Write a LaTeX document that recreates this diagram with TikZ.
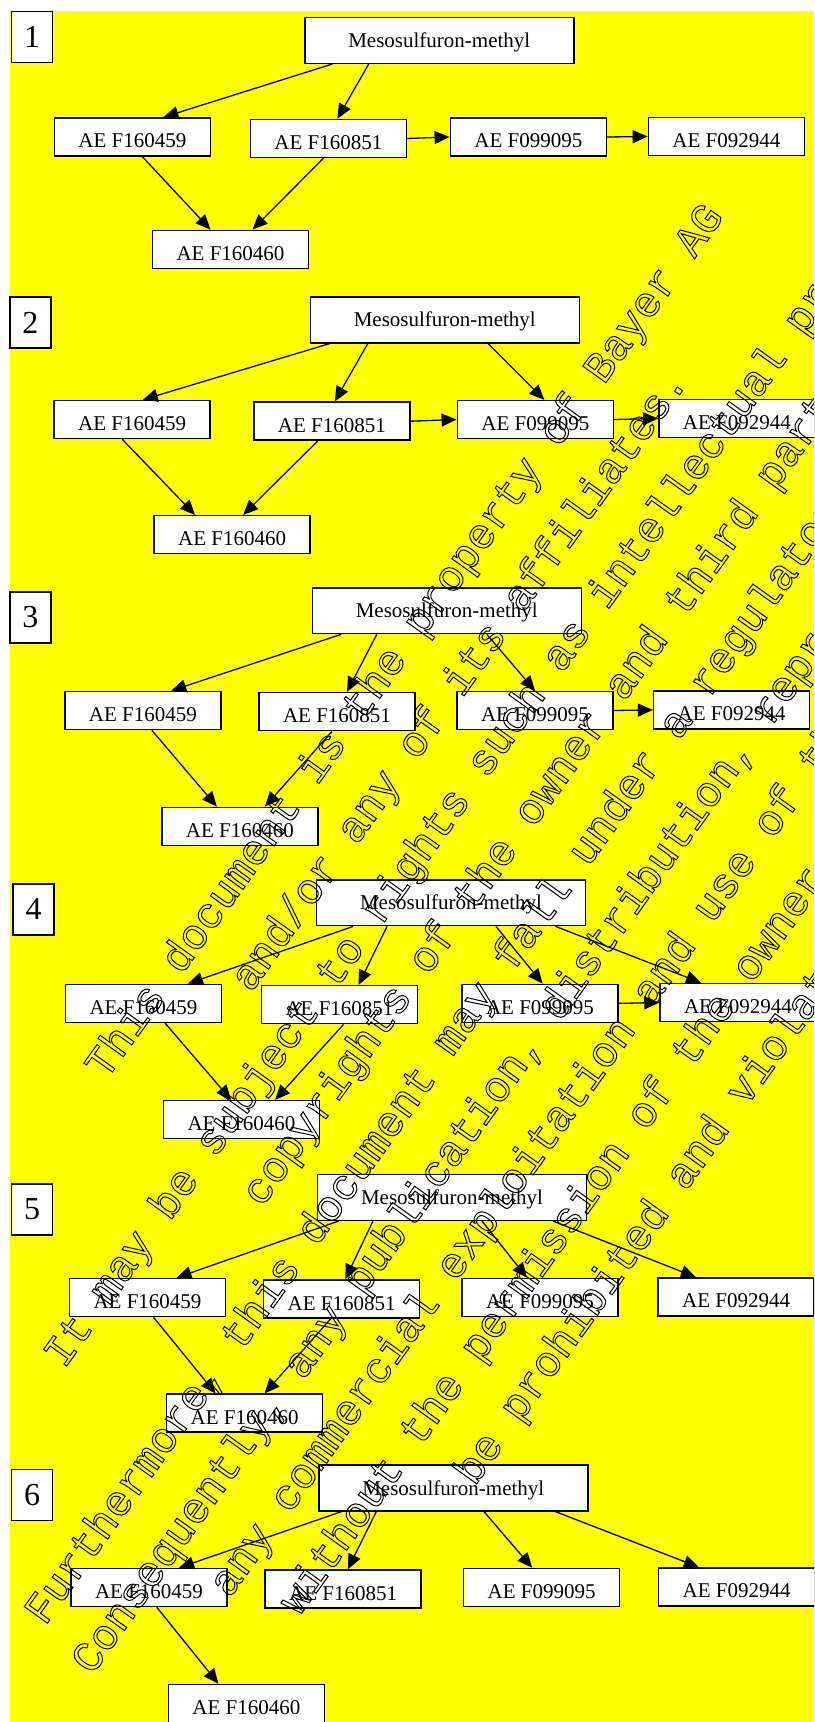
\documentclass[tikz,border=0pt]{standalone}
\usepackage{fontspec}
\setmainfont{Liberation Serif}
\newfontfamily\wmfont{Liberation Mono}
\usetikzlibrary{arrows.meta}

\definecolor{bgyellow}{RGB}{255,255,0}

% hollow letters for the watermark
\newcommand{\outlined}[1]{\special{pdf:literal direct 1 Tr 0.5 w}#1\special{pdf:literal direct 0 Tr}}

\tikzset{
  box/.style={draw, fill=white, line width=0.75pt, minimum width=78pt, minimum height=19pt,
    inner sep=2pt, font=\fontsize{10.5}{12}\selectfont, text height=11pt, text depth=0pt},
  bigbox/.style={box, minimum width=134.5pt, minimum height=22.8pt, text height=7pt},
  numbox/.style={draw, fill=white, line width=0.75pt, minimum width=20.5pt, minimum height=25.5pt,
    inner sep=1pt, font=\fontsize{16}{18}\selectfont},
  arr/.style={line width=0.65pt, -{Triangle[length=7.5pt,width=6.5pt]}},
  wmark/.style={font=\wmfont\fontsize{21.6}{24}\selectfont, text=black, rotate=54.4,
    anchor=base, inner sep=0pt}
}

\begin{document}
\begin{tikzpicture}[x=0.5pt, y=-0.5pt]
        \useasboundingbox (0,0) rectangle (814,1722);
        \clip (0,0) rectangle (814,1722);
        \fill[white] (0,0) rectangle (814,1722);
        \fill[bgyellow] (9.5,11) rectangle (814,1722);

        % 1
        \node[numbox] (n1) at (32.2,37.2) {1};
        \node[bigbox] (m1) at (439.3,40.5) {Mesosulfuron-methyl};
        \node[box] (a1) at (132.4,137) {AE F160459};
        \node[box] (b1) at (328.4,138.5) {AE F160851};
        \node[box] (c1) at (528.3,137) {AE F099095};
        \node[box] (d1) at (726.4,136.5) {AE F092944};
        \node[box] (e1) at (230.5,249.4) {AE F160460};
        \draw[arr] ([xshift=-53.5pt]m1.south) -- ([xshift=15.5pt]a1.north);
        \draw[arr] ([xshift=-35.3pt]m1.south) -- ([xshift=4.5pt]b1.north);
        \draw[arr] (b1.east) -- (c1.west);
        \draw[arr] (c1.east) -- (d1.west);
        \draw[arr] ([xshift=5pt]a1.south) -- ([xshift=-10pt]e1.north);
        \draw[arr] ([xshift=-2.5pt]b1.south) -- ([xshift=11pt]e1.north);

        % 2
        \node[numbox] (n2) at (30.4,322.5) {2};
        \node[bigbox] (m2) at (444.8,320) {Mesosulfuron-methyl};
        \node[box] (a2) at (132.2,419.5) {AE F160459};
        \node[box] (b2) at (331.8,421.2) {AE F160851};
        \node[box] (c2) at (535.3,419.5) {AE F099095};
        \node[box] (d2) at (736.8,418.5) {AE F092944};
        \node[box] (e2) at (232.1,534.7) {AE F160460};
        \draw[arr] ([xshift=-57.5pt]m2.south) -- ([xshift=5.3pt]a2.north);
        \draw[arr] ([xshift=-38.5pt]m2.south) -- ([xshift=1.5pt]b2.north);
        \draw[arr] ([xshift=21.6pt]m2.south) -- ([xshift=4.5pt]c2.north);
        \draw[arr] (b2.east) -- (c2.west);
        \draw[arr] (c2.east) -- (d2.west);
        \draw[arr] ([xshift=-5pt]a2.south) -- ([xshift=-18.5pt]e2.north);
        \draw[arr] ([xshift=-7pt]b2.south) -- ([xshift=5.5pt]e2.north);

        % 3
        \node[numbox] (n3) at (30.4,617.5) {3};
        \node[bigbox] (m3) at (446.8,610.8) {Mesosulfuron-methyl};
        \node[box] (a3) at (142.8,710.5) {AE F160459};
        \node[box] (b3) at (337,711.7) {AE F160851};
        \node[box] (c3) at (535,710.5) {AE F099095};
        \node[box] (d3) at (731.6,709.9) {AE F092944};
        \node[box] (e3) at (239.9,826.4) {AE F160460};
        \draw[arr] ([xshift=-52.8pt]m3.south) -- ([xshift=14.2pt]a3.north);
        \draw[arr] ([xshift=-35pt]m3.south) -- ([xshift=5pt]b3.north);
        \draw[arr] ([xshift=20pt]m3.south) -- (c3.north);
        \draw[arr] (c3.east) -- (d3.west);
        \draw[arr] ([xshift=4.5pt]a3.south) -- ([xshift=-11.5pt]e3.north);
        \draw[arr] ([xshift=-2.5pt]b3.south) -- ([xshift=12.5pt]e3.north);

        % 4
        \node[numbox] (n4) at (33.5,909.3) {4};
        \node[bigbox] (m4) at (451,902.9) {Mesosulfuron-methyl};
        \node[box] (a4) at (143.5,1003.4) {AE F160459};
        \node[box] (b4) at (339.5,1004.7) {AE F160851};
        \node[box] (c4) at (540,1003.4) {AE F099095};
        \node[box] (d4) at (738,1002.5) {AE F092944};
        \node[box] (e4) at (241.5,1119.7) {AE F160460};
        \draw[arr] ([xshift=-49pt]m4.south) -- ([xshift=22.2pt]a4.north);
        \draw[arr] ([xshift=-32pt]m4.south) -- ([xshift=9.5pt]b4.north);
        \draw[arr] ([xshift=22.5pt]m4.south) -- ([xshift=1.3pt]c4.north);
        \draw[arr] ([xshift=52.3pt]m4.south) -- ([xshift=-18.5pt]d4.north);
        \draw[arr] (c4.east) -- (d4.west);
        \draw[arr] ([xshift=10.8pt]a4.south) -- ([xshift=-5.2pt]e4.north);
        \draw[arr] ([xshift=2pt]b4.south) -- ([xshift=16.8pt]e4.north);

        % 5
        \node[numbox] (n5) at (32.2,1209.3) {5};
        \node[bigbox] (m5) at (452,1197.5) {Mesosulfuron-methyl};
        \node[box] (a5) at (147.5,1297.5) {AE F160459};
        \node[box] (b5) at (341.7,1299) {AE F160851};
        \node[box] (c5) at (540,1297.5) {AE F099095};
        \node[box] (d5) at (736.2,1296.9) {AE F092944};
        \node[box] (e5) at (244.6,1413.2) {AE F160460};
        \draw[arr] ([xshift=-56.7pt]m5.south) -- ([xshift=14.5pt]a5.north);
        \draw[arr] ([xshift=-39.5pt]m5.south) -- ([xshift=1.8pt]b5.north);
        \draw[arr] ([xshift=15pt]m5.south) -- ([xshift=-6.5pt]c5.north);
        \draw[arr] ([xshift=50.5pt]m5.south) -- ([xshift=-20.2pt]d5.north);
        \draw[arr] ([xshift=3pt]a5.south) -- ([xshift=-14.5pt]e5.north);
        \draw[arr] ([xshift=-5.5pt]b5.south) -- ([xshift=10pt]e5.north);

        % 6
        \node[numbox] (n6) at (32.2,1495.2) {6};
        \node[bigbox] (m6) at (453.3,1488) {Mesosulfuron-methyl};
        \node[box] (a6) at (149,1587.5) {AE F160459};
        \node[box] (b6) at (343.2,1589) {AE F160851};
        \node[box] (c6) at (541.6,1587.5) {AE F099095};
        \node[box] (d6) at (736.7,1586.9) {AE F092944};
        \node[box] (e6) at (246.4,1703.5) {AE F160460};
        \draw[arr] ([xshift=-55.8pt]m6.south) -- ([xshift=15pt]a6.north);
        \draw[arr] ([xshift=-38.5pt]m6.south) -- ([xshift=2.3pt]b6.north);
        \draw[arr] ([xshift=15.3pt]m6.south) -- ([xshift=-4.7pt]c6.north);
        \draw[arr] ([xshift=51pt]m6.south) -- ([xshift=-19pt]d6.north);
        \draw[arr] ([xshift=3.9pt]a6.south) -- ([xshift=-14pt]e6.north);

        % watermark
        \foreach \txt [count=\k] in {
            {This document is the property of Bayer AG},
            {and/or any of its affiliates.},
            {It may be subject to rights such as intellectual property and},
            {copyrights of the owner and third parties.},
            {Furthermore, this document may fall under a regulatory data protection regime.},
            {Consequently, any publication, distribution, reproduction and/or publishing and},
            {any commercial exploitation and use of this document or its contents},
            {without the permission of the owner of this document may therefore},
            {be prohibited and violate the rights of its owner.}}
          \node[wmark] (w\k) at ({-166.7+0.8141*(715+67*(\k-1))}, {233.6+0.5807*(715+67*(\k-1))}) {\outlined{\txt}};
      \end{tikzpicture}
\end{document}
